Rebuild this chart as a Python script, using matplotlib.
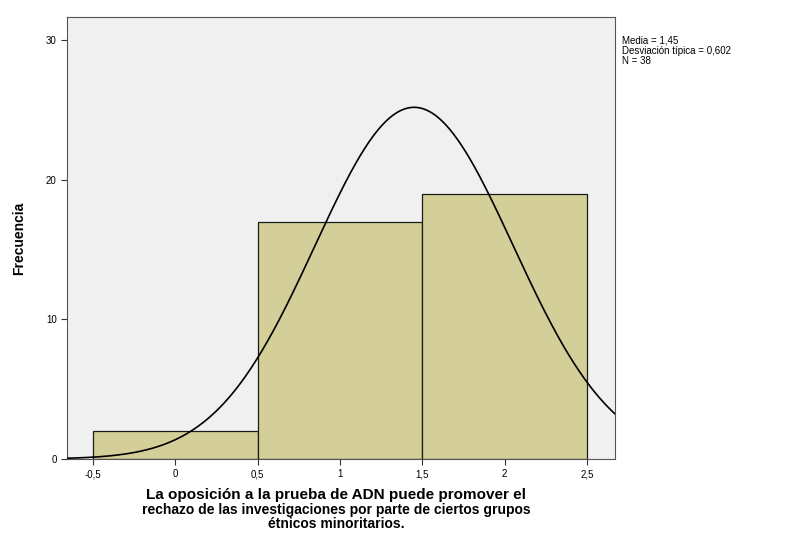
import numpy as np
import matplotlib
matplotlib.use("Agg")
import matplotlib.pyplot as plt

# Data
bin_edges = [-0.5, 0.5, 1.5, 2.5]
counts = [2, 17, 19]
mean = 1.45
sd = 0.602
n = 38
x_ticks = [-0.5, 0, 0.5, 1, 1.5, 2, 2.5]
x_tick_labels = ["-0,5", "0", "0,5", "1", "1,5", "2", "2,5"]
y_ticks = [0, 10, 20, 30]

plt.rcParams['font.family'] = ['Liberation Sans', 'DejaVu Sans']

fig = plt.figure(figsize=(7.85, 5.48), dpi=100)
ax = fig.add_axes([0.0854, 0.1624, 0.698, 0.8066])
ax.set_facecolor('#F0F0F0')

widths = np.diff(bin_edges)
ax.bar(bin_edges[:-1], counts, width=widths, align='edge',
       color='#D4CF98', edgecolor='#1a1a1a', linewidth=0.9, zorder=2)

xs = np.linspace(-0.7, 2.7, 400)
binw = widths[0]
ys = n * binw / (sd * np.sqrt(2 * np.pi)) * np.exp(-0.5 * ((xs - mean) / sd) ** 2)
ax.plot(xs, ys, color='black', linewidth=1.2, zorder=3)

ax.set_xlim(-0.658, 2.67)
ax.set_ylim(0, 31.65)
ax.set_xticks(x_ticks)
ax.set_xticklabels(x_tick_labels, fontsize=7)
ax.set_yticks(y_ticks)
ax.set_yticklabels([str(v) for v in y_ticks], fontsize=7)
ax.tick_params(axis='both', direction='out', length=4, width=0.8, color='#333333')
for s in ax.spines.values():
    s.set_color('#555555')
    s.set_linewidth(0.8)

ax.set_ylabel('Frecuencia', fontsize=10, fontweight='bold', labelpad=14)

cx = 0.428
fig.text(cx, 0.097, 'La oposición a la prueba de ADN puede promover el',
         ha='center', va='center', fontsize=11, fontweight='bold')
fig.text(cx, 0.070, 'rechazo de las investigaciones por parte de ciertos grupos',
         ha='center', va='center', fontsize=10, fontweight='bold')
fig.text(cx, 0.044, 'étnicos minoritarios.',
         ha='center', va='center', fontsize=10, fontweight='bold')

fig.text(0.792, 0.935, 'Media = 1,45\nDesviación típica = 0,602\nN = 38',
         ha='left', va='top', fontsize=7, linespacing=1.0)

fig.savefig('out.png', dpi=100)
